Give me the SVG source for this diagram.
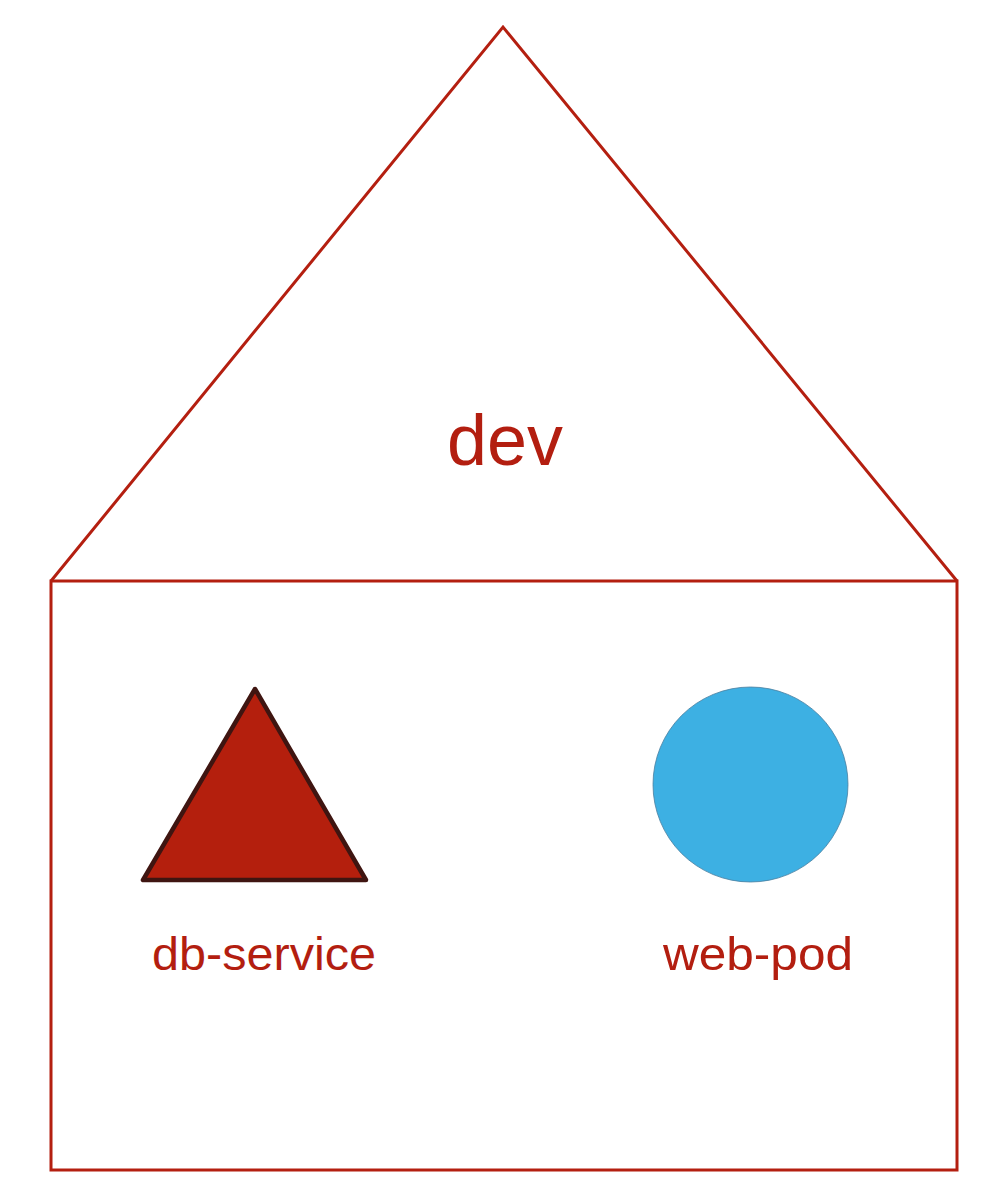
<svg xmlns="http://www.w3.org/2000/svg" width="994" height="1204" viewBox="0 0 994 1204">
<style>
.outline{fill:none;stroke:#b41f10;stroke-width:3;stroke-linejoin:miter}
.lbl{font-family:"Liberation Sans","Open Sans",Arial,sans-serif;fill:#b31e10}
</style>
<rect width="994" height="1204" fill="#ffffff"/>
<g id="namespace-dev">
<polyline class="outline" points="51,581 503,27 957,581"/>
<rect class="outline" x="51" y="581" width="906" height="589"/>
<text class="lbl" x="505" y="465" font-size="72" text-anchor="middle" textLength="116" lengthAdjust="spacingAndGlyphs">dev</text>
</g>
<g id="db-service">
<polygon points="255,689 143,880 366,880" fill="#b41f0d" stroke="#3f1511" stroke-width="4.5" stroke-linejoin="round"/>
<text class="lbl" x="264" y="970" font-size="47" text-anchor="middle" textLength="224" lengthAdjust="spacingAndGlyphs">db-service</text>
</g>
<g id="web-pod">
<circle cx="750.5" cy="784.5" r="97.5" fill="#3db0e3" stroke="#4a7fa0" stroke-width="0.8"/>
<text class="lbl" x="758" y="970" font-size="47" text-anchor="middle" textLength="190" lengthAdjust="spacingAndGlyphs">web-pod</text>
</g>
<g id="connectors"/>
</svg>
